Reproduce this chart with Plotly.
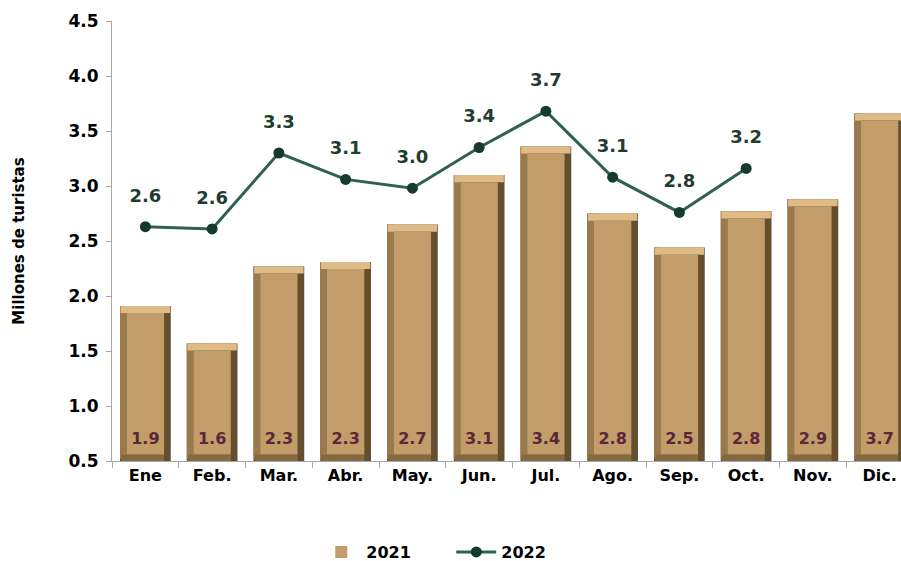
import plotly.graph_objects as go

months = ["Ene", "Feb.", "Mar.", "Abr.", "May.", "Jun.", "Jul.", "Ago.", "Sep.", "Oct.", "Nov.", "Dic."]
v2021 = [1.91, 1.57, 2.27, 2.31, 2.65, 3.10, 3.36, 2.75, 2.44, 2.77, 2.88, 3.66]
lab2021 = ["1.9", "1.6", "2.3", "2.3", "2.7", "3.1", "3.4", "2.8", "2.5", "2.8", "2.9", "3.7"]
m2022 = months[:10]
v2022 = [2.63, 2.61, 3.30, 3.06, 2.98, 3.35, 3.68, 3.08, 2.76, 3.16]
lab2022 = ["2.6", "2.6", "3.3", "3.1", "3.0", "3.4", "3.7", "3.1", "2.8", "3.2"]

floor = 0.5
bev_y = 0.065
W = 0.76
bev_x = 0.1
label_y = floor + 0.19
line_label_gap = 0.27

n = len(months)
fig = go.Figure()
# dark outer (right bevel)
fig.add_trace(go.Bar(x=months, y=[v - floor for v in v2021], base=floor, width=W,
                     marker=dict(color="#644e30", line=dict(width=0)), showlegend=False, hoverinfo="skip"))
# left bevel (medium)
fig.add_trace(go.Bar(x=months, y=[v - floor - 0.02 for v in v2021], base=floor + 0.02, width=bev_x,
                     offset=-W / 2, marker=dict(color="#9a7a4d", line=dict(width=0)),
                     showlegend=False, hoverinfo="skip"))
# bottom bevel
fig.add_trace(go.Bar(x=months, y=[0.06] * n, base=floor, width=W - bev_x - 0.02,
                     offset=-W / 2 + 0.02, marker=dict(color="#86693f", line=dict(width=0)),
                     showlegend=False, hoverinfo="skip"))
# top bevel (light)
fig.add_trace(go.Bar(x=months, y=[bev_y] * n, base=[v - bev_y for v in v2021], width=W - 0.02,
                     offset=-W / 2 + 0.01, marker=dict(color="#dfbb88", line=dict(width=0)),
                     showlegend=False, hoverinfo="skip"))
# main face
fig.add_trace(go.Bar(x=months, y=[v - floor - bev_y - 0.06 for v in v2021], base=floor + 0.06,
                     width=W - 2 * bev_x, name="2021",
                     marker=dict(color="#c29c69", line=dict(width=0)),
                     legendrank=1, hoverinfo="skip"))
# bar value labels
fig.add_trace(go.Scatter(x=months, y=[label_y] * n, mode="text", text=lab2021,
                         textfont=dict(family="DejaVu Sans", size=16, color="#5b2738", weight="bold"),
                         showlegend=False, hoverinfo="skip"))
fig.add_trace(go.Scatter(x=m2022, y=v2022, name="2022", mode="lines+markers",
                         line=dict(color="#2f6150", width=3),
                         marker=dict(color="#163a2c", size=11),
                         legendrank=2))
# line value labels
fig.add_trace(go.Scatter(x=m2022, y=[v + line_label_gap for v in v2022], mode="text", text=lab2022,
                         textfont=dict(family="DejaVu Sans", size=18, color="#1e3d30", weight="bold"),
                         showlegend=False, hoverinfo="skip"))

fig.update_layout(
    width=901, height=561,
    barmode="overlay",
    plot_bgcolor="white", paper_bgcolor="white",
    margin=dict(l=112, r=0, t=21, b=100, autoexpand=False),
    font=dict(family="DejaVu Sans", color="black"),
    showlegend=True,
    legend=dict(orientation="h", x=0.43, xanchor="center", y=-0.207, yanchor="middle",
                font=dict(size=16, weight="bold"), traceorder="normal",
                itemwidth=40, entrywidth=80),
)
fig.update_xaxes(range=[-0.5, 11.32], showline=True, linecolor="#a6a6a6", linewidth=1,
                 ticks="outside", tickson="boundaries", ticklen=6, tickcolor="#a6a6a6",
                 tickfont=dict(size=16, weight="bold"), showgrid=False, fixedrange=True)
fig.update_yaxes(range=[0.5, 4.5], dtick=0.5, tick0=0.5, tickformat=".1f",
                 showline=True, linecolor="#a6a6a6", linewidth=1,
                 ticks="outside", ticklen=5, tickcolor="#a6a6a6", ticklabelstandoff=4,
                 tickfont=dict(size=17, weight="bold"), showgrid=False, zeroline=False,
                 title=dict(text="Millones de turistas", font=dict(size=15, weight="bold"), standoff=40))

fig.write_html("out.html", config={"displayModeBar": False},
               post_script="document.body.style.margin='0';document.body.style.overflow='hidden';")
